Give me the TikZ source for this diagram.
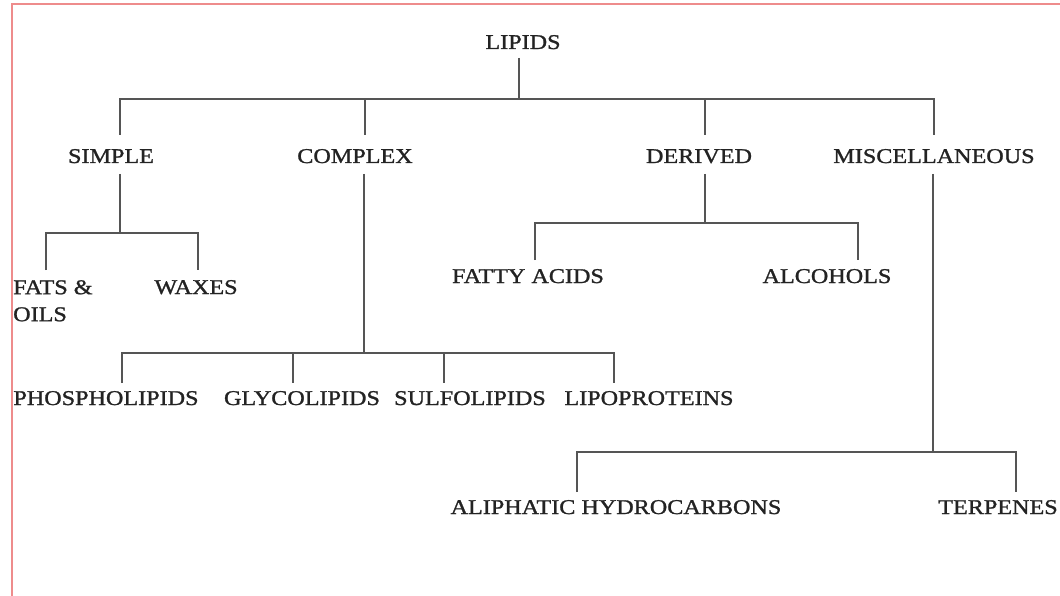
\documentclass[tikz,border=0pt]{standalone}
\usepackage{fontspec}
\setmainfont{Liberation Serif}[FakeStretch=1.15, FakeBold=1.2]
\definecolor{txt}{RGB}{35,35,35}
\definecolor{lineg}{RGB}{85,85,85}
\definecolor{frame}{RGB}{238,140,140}
\begin{document}
\begin{tikzpicture}[x=1pt,y=-1pt,
  lbl/.style={font=\fontsize{21}{27}\selectfont, text=txt, inner sep=0pt, text height=14pt, text depth=0pt},
  conn/.style={draw=lineg, line width=1.8pt}]
\fill[white] (0,0) rectangle (1060,596);
\useasboundingbox (0,0) rectangle (1060,596);
\draw[frame, line width=1.5pt] (12,596) -- (12,4) -- (1060,4);

% nodes
\node[lbl] (lipids) at (523,42) {LIPIDS};
\node[lbl] (simple) at (111,156) {SIMPLE};
\node[lbl] (complex) at (355,156) {COMPLEX};
\node[lbl] (derived) at (699,156) {DERIVED};
\node[lbl] (misc) at (934,156) {MISCELLANEOUS};
\node[lbl, text height=, text depth=, align=left, anchor=north west] (fats) at (13,280) {FATS \&\\OILS};
\node[lbl] (waxes) at (196,287) {WAXES};
\node[lbl] (fatty) at (528,276) {FATTY ACIDS};
\node[lbl] (alcohols) at (827,276) {ALCOHOLS};
\node[lbl] (phospho) at (106,398) {PHOSPHOLIPIDS};
\node[lbl] (glyco) at (302,398) {GLYCOLIPIDS};
\node[lbl] (sulfo) at (470,398) {SULFOLIPIDS};
\node[lbl] (lipo) at (649,398) {LIPOPROTEINS};
\node[lbl] (aliph) at (616,507) {ALIPHATIC HYDROCARBONS};
\node[lbl] (terp) at (998,507) {TERPENES};

% junction coordinates
\coordinate (lipids-s) at (519,58);  \coordinate (j0) at (519,99);
\coordinate (j0a) at (120,99); \coordinate (j0b) at (365,99);
\coordinate (j0c) at (705,99); \coordinate (j0d) at (934,99);
\coordinate (simple-n) at (120,135); \coordinate (complex-n) at (365,135);
\coordinate (derived-n) at (705,135); \coordinate (misc-n) at (934,135);

\coordinate (simple-s) at (120,174); \coordinate (j1) at (120,233);
\coordinate (j1a) at (46,233); \coordinate (j1b) at (198,233);
\coordinate (fats-n) at (46,270); \coordinate (waxes-n) at (198,270);

\coordinate (complex-s) at (364,174); \coordinate (j2) at (364,353);
\coordinate (j2a) at (122,353); \coordinate (j2b) at (293,353);
\coordinate (j2c) at (444,353); \coordinate (j2d) at (614,353);
\coordinate (phospho-n) at (122,383); \coordinate (glyco-n) at (293,383);
\coordinate (sulfo-n) at (444,383); \coordinate (lipo-n) at (614,383);

\coordinate (derived-s) at (705,174); \coordinate (j3) at (705,223);
\coordinate (j3a) at (535,223); \coordinate (j3b) at (858,223);
\coordinate (fatty-n) at (535,260); \coordinate (alcohols-n) at (858,260);

\coordinate (misc-s) at (933,174); \coordinate (j4) at (933,452);
\coordinate (j4a) at (577,452); \coordinate (j4b) at (1016,452);
\coordinate (aliph-n) at (577,492); \coordinate (terp-n) at (1016,492);

% connectors
\draw[conn] (lipids-s) -- (j0);
\draw[conn] (simple-n) -- (j0a) -- (j0d) -- (misc-n);
\draw[conn] (j0b) -- (complex-n);
\draw[conn] (j0c) -- (derived-n);

\draw[conn] (simple-s) -- (j1);
\draw[conn] (fats-n) -- (j1a) -- (j1b) -- (waxes-n);

\draw[conn] (complex-s) -- (j2);
\draw[conn] (phospho-n) -- (j2a) -- (j2d) -- (lipo-n);
\draw[conn] (j2b) -- (glyco-n);
\draw[conn] (j2c) -- (sulfo-n);

\draw[conn] (derived-s) -- (j3);
\draw[conn] (fatty-n) -- (j3a) -- (j3b) -- (alcohols-n);

\draw[conn] (misc-s) -- (j4);
\draw[conn] (aliph-n) -- (j4a) -- (j4b) -- (terp-n);
\end{tikzpicture}
\end{document}
